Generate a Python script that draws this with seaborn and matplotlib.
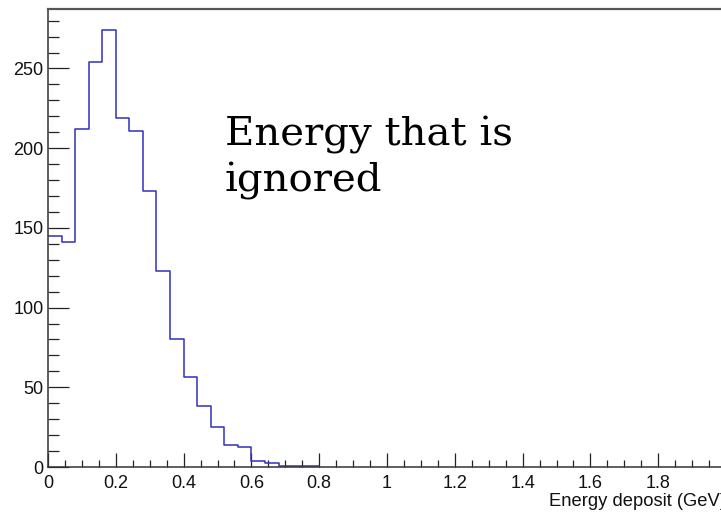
import numpy as np
import pandas as pd
import matplotlib
matplotlib.use("Agg")
import matplotlib.pyplot as plt
from matplotlib.ticker import MultipleLocator, FuncFormatter
import seaborn as sns

# Histogram of energy deposits: 20 bins of 0.04 GeV starting at 0
bin_width = 0.04
counts = [145, 141, 212, 254, 274, 219, 211, 173, 123, 80,
          56.5, 38, 25, 13.5, 12.5, 3.6, 2.7, 0.4, 0.4, 0.4]
x_label = "Energy deposit (GeV)"
note_lines = ["Energy that is", "ignored"]

n_bins = len(counts)
centers = (np.arange(n_bins) + 0.5) * bin_width
df = pd.DataFrame({"energy": centers, "count": counts})

sns.set_theme(style="white")
plt.rcParams["font.family"] = ["Liberation Sans", "DejaVu Sans"]

fig = plt.figure(figsize=(7.21, 5.12), dpi=100)
ax = fig.add_axes([48 / 721, 1 - 467 / 512, 678 / 721, 458 / 512])

sns.histplot(data=df, x="energy", weights="count", binwidth=bin_width,
             binrange=(0, n_bins * bin_width), element="step", fill=False,
             color="#2f2fbf", linewidth=1.1, ax=ax)

ax.set_xlim(0, 2.0)
ax.set_ylim(0, 287.3)


def x_fmt(v, pos):
    # the label at the far right end of the axis is not drawn
    return "" if v > 1.95 else f"{v:g}"


ax.xaxis.set_major_locator(MultipleLocator(0.2))
ax.xaxis.set_minor_locator(MultipleLocator(0.05))
ax.yaxis.set_major_locator(MultipleLocator(50))
ax.yaxis.set_minor_locator(MultipleLocator(10))
ax.xaxis.set_major_formatter(FuncFormatter(x_fmt))
ax.yaxis.set_major_formatter(FuncFormatter(lambda v, p: f"{v:g}"))

ax.tick_params(axis="both", which="both", direction="in", color="#222222",
               labelcolor="#111111", width=0.9, top=False, right=False,
               bottom=True, left=True, labelsize=13)
ax.tick_params(axis="y", which="major", length=15, pad=3.2)
ax.tick_params(axis="y", which="minor", length=7.7)
ax.tick_params(axis="x", which="major", length=10, pad=6)
ax.tick_params(axis="x", which="minor", length=5)

for side in ["left", "bottom", "top", "right"]:
    ax.spines[side].set_color("#333333")
    ax.spines[side].set_linewidth(1.1)
ax.spines["top"].set_color("#555555")
ax.spines["top"].set_linewidth(1.6)

ax.set_ylabel("")
ax.set_xlabel(x_label, fontsize=13.2, ha="right", color="#111111")
ax.xaxis.set_label_coords(1.0, -0.056)

fig.text(225 / 721, 1 - 145 / 512, note_lines[0], family="DejaVu Serif",
         fontsize=29, va="baseline", ha="left", color="black")
fig.text(225 / 721, 1 - 191 / 512, note_lines[1], family="DejaVu Serif",
         fontsize=29, va="baseline", ha="left", color="black")

fig.savefig("out.png", dpi=100, facecolor="white")
